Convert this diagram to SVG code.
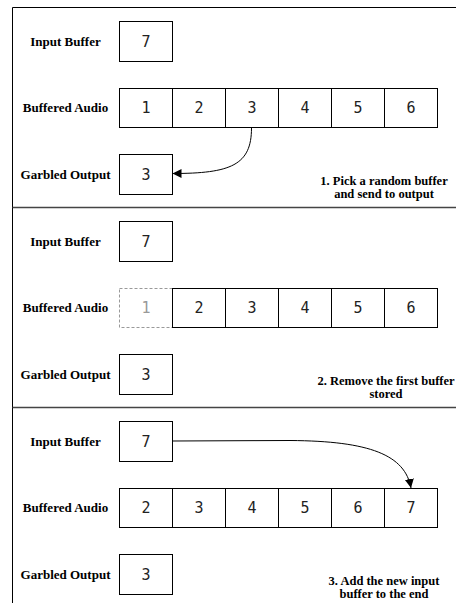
<svg xmlns="http://www.w3.org/2000/svg" width="456" height="603" viewBox="0 0 456 603">
<style>
.frame{stroke:#000;stroke-width:1;fill:none}
.divider{stroke:#444;stroke-width:1.3;fill:none}
.box{fill:#fff;stroke:#000;stroke-width:1}
.ghost{fill:#fff;stroke:#999;stroke-width:1;stroke-dasharray:3,2}
.num{font-family:"DejaVu Sans Mono",monospace;font-size:15px;fill:#222;text-anchor:middle}
.numghost{font-family:"DejaVu Sans Mono",monospace;font-size:15px;fill:#999;text-anchor:middle}
.label{font-family:"Liberation Serif",serif;font-weight:bold;font-size:13px;fill:#000;text-anchor:middle}
.cap{font-family:"Liberation Serif",serif;font-weight:bold;font-size:12.5px;fill:#000;text-anchor:middle}
.arrow{fill:none;stroke:#000;stroke-width:1;marker-end:url(#ah)}
</style>
<defs>
<marker id="ah" markerUnits="userSpaceOnUse" markerWidth="10" markerHeight="10" refX="9" refY="4.5" orient="auto">
<path d="M0,0 L9,4.5 L0,9 z" fill="#000"/>
</marker>
</defs>
<rect width="456" height="603" fill="#fff"/>
<g id="frame">
<path class="frame" d="M12.5,603 L12.5,7.5 L456,7.5"/>
<path class="divider" d="M12.5,207.5 L456,207.5"/>
<path class="divider" d="M12.5,407.5 L456,407.5"/>
</g>

<!-- Panel 1 -->
<g id="p1-labels">
<text class="label" x="65.5" y="45.5">Input Buffer</text>
<text class="label" x="65.5" y="112">Buffered Audio</text>
<text class="label" x="65.5" y="178.5">Garbled Output</text>
</g>
<g id="p1-input"><rect class="box" x="119.5" y="21.5" width="53" height="40"/><text class="num" x="146" y="47">7</text></g>
<g id="p1-cell1"><rect class="box" x="119.5" y="88.5" width="53" height="39"/><text class="num" x="146" y="113">1</text></g>
<g id="p1-cell2"><rect class="box" x="172.5" y="88.5" width="53" height="39"/><text class="num" x="199" y="113">2</text></g>
<g id="p1-cell3"><rect class="box" x="225.5" y="88.5" width="53" height="39"/><text class="num" x="252" y="113">3</text></g>
<g id="p1-cell4"><rect class="box" x="278.5" y="88.5" width="53" height="39"/><text class="num" x="305" y="113">4</text></g>
<g id="p1-cell5"><rect class="box" x="331.5" y="88.5" width="53" height="39"/><text class="num" x="358" y="113">5</text></g>
<g id="p1-cell6"><rect class="box" x="384.5" y="88.5" width="53" height="39"/><text class="num" x="411" y="113">6</text></g>
<g id="p1-output"><rect class="box" x="119.5" y="154.5" width="53" height="40"/><text class="num" x="146" y="180">3</text></g>
<g id="p1-caption">
<text class="cap" x="384" y="185">1. Pick a random buffer</text>
<text class="cap" x="384" y="198">and send to output</text>
</g>

<!-- Panel 2 -->
<g id="p2-labels">
<text class="label" x="65.5" y="245.5">Input Buffer</text>
<text class="label" x="65.5" y="312">Buffered Audio</text>
<text class="label" x="65.5" y="378.5">Garbled Output</text>
</g>
<g id="p2-input"><rect class="box" x="119.5" y="221.5" width="53" height="40"/><text class="num" x="146" y="247">7</text></g>
<g id="p2-cell1"><rect class="ghost" x="119.5" y="288.5" width="53" height="39"/><text class="numghost" x="146" y="313">1</text></g>
<g id="p2-cell2"><rect class="box" x="172.5" y="288.5" width="53" height="39"/><text class="num" x="199" y="313">2</text></g>
<g id="p2-cell3"><rect class="box" x="225.5" y="288.5" width="53" height="39"/><text class="num" x="252" y="313">3</text></g>
<g id="p2-cell4"><rect class="box" x="278.5" y="288.5" width="53" height="39"/><text class="num" x="305" y="313">4</text></g>
<g id="p2-cell5"><rect class="box" x="331.5" y="288.5" width="53" height="39"/><text class="num" x="358" y="313">5</text></g>
<g id="p2-cell6"><rect class="box" x="384.5" y="288.5" width="53" height="39"/><text class="num" x="411" y="313">6</text></g>
<g id="p2-output"><rect class="box" x="119.5" y="354.5" width="53" height="40"/><text class="num" x="146" y="380">3</text></g>
<g id="p2-caption">
<text class="cap" x="386" y="385">2. Remove the first buffer</text>
<text class="cap" x="386" y="398">stored</text>
</g>

<!-- Panel 3 -->
<g id="p3-labels">
<text class="label" x="65.5" y="445.5">Input Buffer</text>
<text class="label" x="65.5" y="512">Buffered Audio</text>
<text class="label" x="65.5" y="578.5">Garbled Output</text>
</g>
<g id="p3-input"><rect class="box" x="119.5" y="421.5" width="53" height="40"/><text class="num" x="146" y="447">7</text></g>
<g id="p3-cell1"><rect class="box" x="119.5" y="488.5" width="53" height="39"/><text class="num" x="146" y="513">2</text></g>
<g id="p3-cell2"><rect class="box" x="172.5" y="488.5" width="53" height="39"/><text class="num" x="199" y="513">3</text></g>
<g id="p3-cell3"><rect class="box" x="225.5" y="488.5" width="53" height="39"/><text class="num" x="252" y="513">4</text></g>
<g id="p3-cell4"><rect class="box" x="278.5" y="488.5" width="53" height="39"/><text class="num" x="305" y="513">5</text></g>
<g id="p3-cell5"><rect class="box" x="331.5" y="488.5" width="53" height="39"/><text class="num" x="358" y="513">6</text></g>
<g id="p3-cell6"><rect class="box" x="384.5" y="488.5" width="53" height="39"/><text class="num" x="411" y="513">7</text></g>
<g id="p3-output"><rect class="box" x="119.5" y="554.5" width="53" height="40"/><text class="num" x="146" y="580">3</text></g>
<g id="p3-caption">
<text class="cap" x="384" y="585">3. Add the new input</text>
<text class="cap" x="384" y="598">buffer to the end</text>
</g>

<g id="connectors">
<path class="arrow" d="M251.5,128 C251.5,165 231,173.5 172.5,173.5"/>
<path class="arrow" d="M172.5,441 L290,440.5 C370,441 405,455 411,488"/>
</g>
</svg>
